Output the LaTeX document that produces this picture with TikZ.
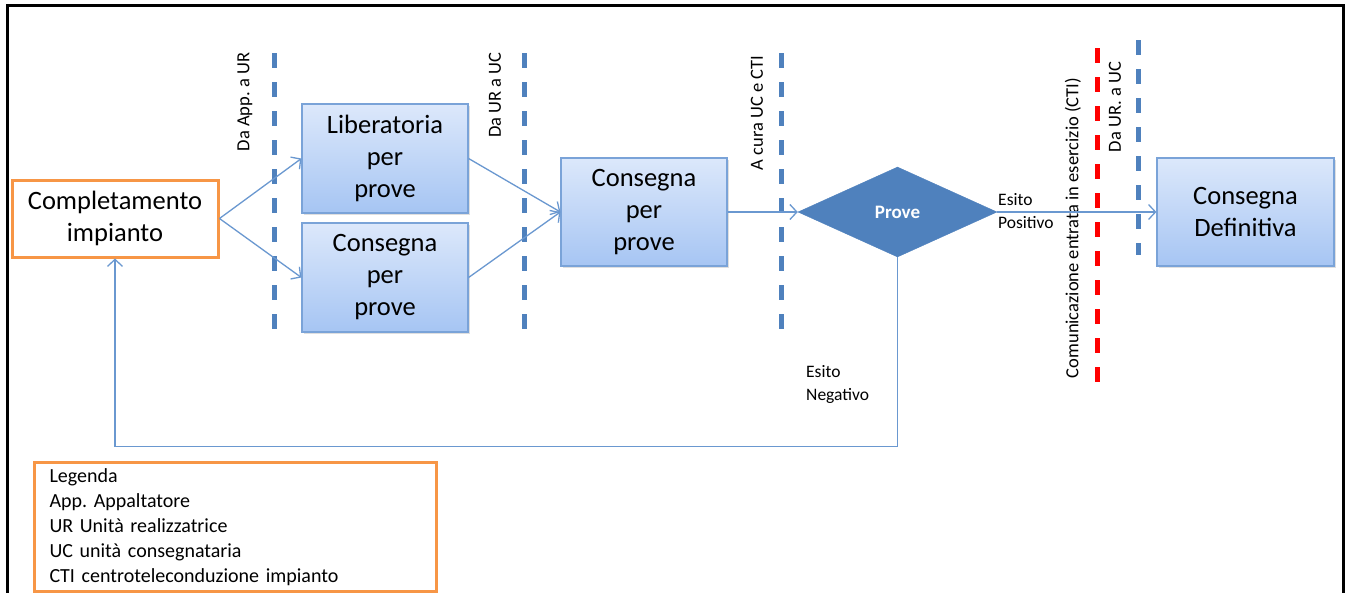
\documentclass[tikz,border=0pt]{standalone}
\usepackage{fontspec}
\setmainfont{Carlito}
\frenchspacing
\usetikzlibrary{arrows.meta,shapes.geometric,shadows}
\definecolor{frameblue}{HTML}{4F81BD}
\definecolor{lineblue}{HTML}{6A98D0}
\definecolor{boxborder}{HTML}{7AA3D8}
\definecolor{boxtop}{HTML}{DCE8FB}
\definecolor{boxbot}{HTML}{A6C5F3}
\definecolor{orangeb}{HTML}{F79646}
\definecolor{dashred}{HTML}{FF0000}
\begin{document}
\begin{tikzpicture}[x=1pt,y=-1pt,
  bluebox/.style={draw=boxborder, line width=1.2pt, top color=boxtop, bottom color=boxbot,
    minimum width=166pt, minimum height=109pt, align=center, inner sep=0pt,
    font=\fontsize{26.5}{32}\selectfont,
    drop shadow={opacity=0.25, shadow xshift=1.5pt, shadow yshift=-1.5pt}},
  orangebox/.style={draw=orangeb, line width=3pt, fill=white},
  divider/.style={draw=frameblue, line width=5pt, dash pattern=on 15pt off 14pt},
  reddivider/.style={draw=dashred, line width=5pt, dash pattern=on 15pt off 14pt},
  conn/.style={draw=lineblue, line width=1.3pt, -{Straight Barb[length=7pt,width=15pt]}},
  vlabel/.style={rotate=90, font=\fontsize{18.5}{20}\selectfont\frenchspacing, inner sep=0pt},
  smalllabel/.style={align=left, anchor=west, inner sep=0pt, font=\fontsize{17.5}{23}\selectfont}
]
\useasboundingbox (0,0) rectangle (1350,592);
\clip (0,0) rectangle (1350,592);
\fill[white] (0,0) rectangle (1350,592);
\draw[line width=3pt] (7,5) rectangle (1343,620);

% dividers
\draw[divider] (274,53) -- (274,342);
\draw[divider] (524,53) -- (524,342);
\draw[divider] (781,53) -- (781,342);
\draw[reddivider] (1097,48) -- (1097,395);
\draw[divider] (1138,40) -- (1138,255);

% rotated labels
\node[vlabel] (l1) at (245,102) {Da App. a UR};
\node[vlabel] (l2) at (495,95) {Da UR a UC};
\node[vlabel] (l3) at (757,113) {A cura UC e CTI};
\node[vlabel] (l4) at (1073,228) {Comunicazione entrata in esercizio (CTI)};
\node[vlabel] (l5) at (1115,107) {Da UR. a UC};

% nodes
\node[orangebox, minimum width=206pt, minimum height=77pt, align=center,
  font=\fontsize{26.5}{32}\selectfont] (comp) at (115,218.5) {Completamento\\impianto};
\node[bluebox] (lib) at (385,158.5) {Liberatoria\\per\\prove};
\node[bluebox] (cons1) at (385,277.5) {Consegna\\per\\prove};
\node[bluebox, minimum height=108pt] (cons2) at (644,212) {Consegna\\per\\prove};
\node[diamond, fill=frameblue, draw=frameblue, minimum width=199pt, minimum height=90pt,
  inner sep=0pt, text=white, font=\fontsize{19}{20}\selectfont\bfseries] (prove) at (897.5,212) {Prove};
\node[bluebox, minimum width=177pt, minimum height=108pt] (def) at (1245.5,212) {Consegna\\Definitiva};

% connectors
\draw[conn] (comp.east) -- (lib.west);
\draw[conn] (comp.east) -- (cons1.west);
\draw[conn] (lib.east) -- (cons2.west);
\draw[conn] (cons1.east) -- (cons2.west);
\draw[conn] (cons2.east) -- (prove.west);
\draw[conn] (prove.east) -- (def.west);
\coordinate (loopc) at ([yshift=-189pt]prove.south);
\draw[conn] (prove.south) -- (loopc) -| (comp.south);

% edge labels
\node[smalllabel] (pos) at (998,211.5) {Esito\\Positivo};
\node[smalllabel] (neg) at (806,384) {Esito\\Negativo};

% legend
\node[orangebox, anchor=north west, minimum width=402pt, minimum height=129pt,
  text width=372pt, inner xsep=15pt, inner ysep=2pt, align=left,
  font=\fontsize{20}{25}\selectfont\frenchspacing] (leg) at (33,461)
  {Legenda\\App. Appaltatore\\UR Unità realizzatrice\\UC unità consegnataria\\CTI centroteleconduzione impianto};
\end{tikzpicture}
\end{document}
